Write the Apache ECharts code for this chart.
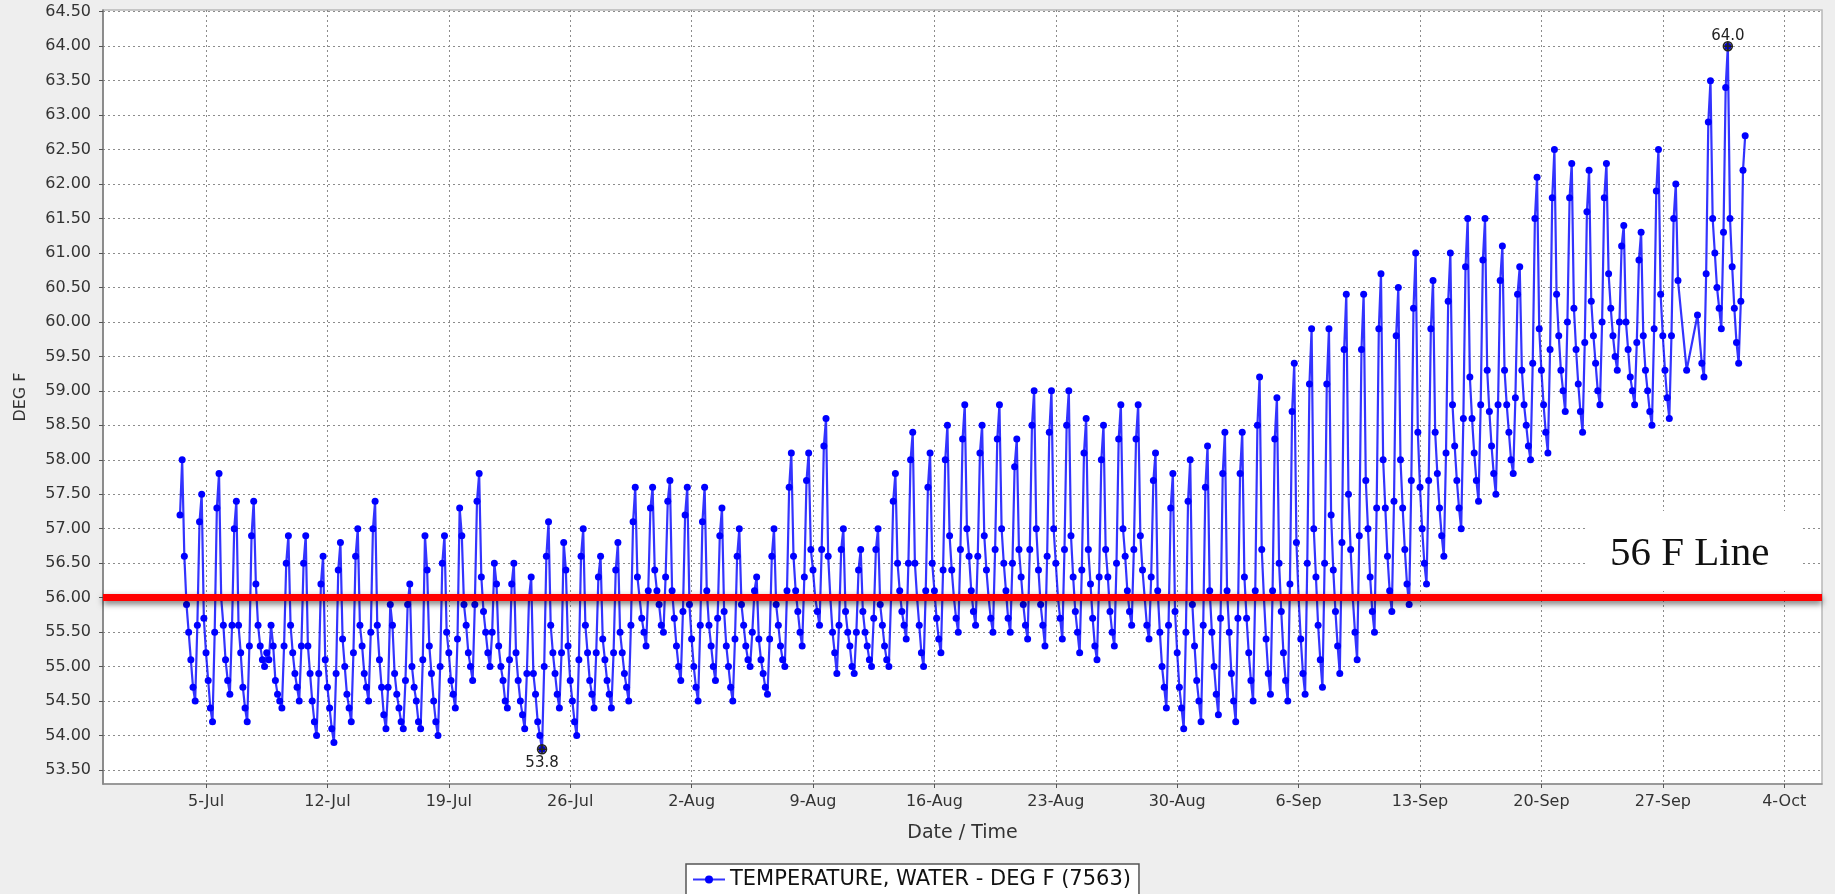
<!DOCTYPE html>
<html>
<head>
<meta charset="utf-8">
<script src="https://cdn.jsdelivr.net/npm/echarts@6/dist/echarts.min.js"></script>
<style>
html,body{margin:0;padding:0;background:#eeeeee;}
#chart{width:1835px;height:894px;}
</style>
</head>
<body>
<div id="chart"></div>
<script>
// ---------- tick labels ----------
const xTickDates = ['2014-07-05','2014-07-12','2014-07-19','2014-07-26','2014-08-02','2014-08-09','2014-08-16','2014-08-23','2014-08-30','2014-09-06','2014-09-13','2014-09-20','2014-09-27','2014-10-04'];
const xTickLabels = ['5-Jul','12-Jul','19-Jul','26-Jul','2-Aug','9-Aug','16-Aug','23-Aug','30-Aug','6-Sep','13-Sep','20-Sep','27-Sep','4-Oct'];
const yTicks = [53.5,54,54.5,55,55.5,56,56.5,57,57.5,58,58.5,59,59.5,60,60.5,61,61.5,62,62.5,63,63.5,64,64.5];
const xRange = ['2014-06-29T01:26','2014-10-06T04:19'];
const yRange = [53.297, 64.525];

// ---------- text ----------
const seriesName = 'TEMPERATURE, WATER - DEG F (7563)';
const xAxisName = 'Date / Time';
const yAxisName = 'DEG F';
const refLineValue = 56;
const refLineLabel = '56 F Line';

// ---------- data: water temperature (deg F), one reading every 3 hours ----------
const sampleStepHours = 3;
const julyStart = '2014-07-03T12:00';
const julyTemps = [
  57.2,58.0,56.6,55.9,
  55.5,55.1,54.7,54.5,55.6,57.1,57.5,55.7,
  55.2,54.8,54.4,54.2,55.5,57.3,57.8,56.0,
  55.6,55.1,54.8,54.6,55.6,57.0,57.4,55.6,
  55.2,54.7,54.4,54.2,55.3,56.9,57.4,56.2,
  55.6,55.3,55.1,55.0,55.2,55.1,55.6,55.3,
  54.8,54.6,54.5,54.4,55.3,56.5,56.9,55.6,
  55.2,54.9,54.7,54.5,55.3,56.5,56.9,55.3,
  54.9,54.5,54.2,54.0,54.9,56.2,56.6,55.1,
  54.7,54.4,54.1,53.9,54.9,56.4,56.8,55.4,
  55.0,54.6,54.4,54.2,55.2,56.6,57.0,55.6,
  55.3,54.9,54.7,54.5,55.5,57.0,57.4,55.6,
  55.1,54.7,54.3,54.1,54.7,55.9,55.6,54.9,
  54.6,54.4,54.2,54.1,54.8,55.9,56.2,55.0,
  54.7,54.5,54.2,54.1,55.1,56.9,56.4,55.3,
  54.9,54.5,54.2,54.0,55.0,56.5,56.9,55.5,
  55.2,54.8,54.6,54.4,55.4,57.3,56.9,55.9,
  55.6,55.2,55.0,54.8,55.9,57.4,57.8,56.3,
  55.8,55.5,55.2,55.0,55.5,56.5,56.2,55.3,
  55.0,54.8,54.5,54.4,55.1,56.2,56.5,55.2,
  54.8,54.5,54.3,54.1,54.9,56.0,56.3,54.9,
  54.6,54.2,54.0,53.8,55.0,56.6,57.1,55.6,
  55.2,54.9,54.6,54.4,55.2,56.8,56.4,55.3,
  54.8,54.5,54.2,54.0,55.1,56.6,57.0,55.6,
  55.2,54.8,54.6,54.4,55.2,56.3,56.6,55.4,
  55.1,54.8,54.6,54.4,55.2,56.4,56.8,55.5,
  55.2,54.9,54.7,54.5,55.6,57.1,57.6,56.3,
  56.0,55.7,55.5,55.3,56.1,57.3,57.6,56.4,
  56.1,55.9,55.6,55.5,56.3,57.4,57.7,56.1
];
const augustStart = '2014-08-01T00:00';
const augustTemps = [
  55.7,55.3,55.0,54.8,55.8,57.2,57.6,55.9,
  55.4,55.0,54.7,54.5,55.6,57.1,57.6,56.1,
  55.6,55.3,55.0,54.8,55.7,56.9,57.3,55.8,
  55.3,55.0,54.7,54.5,55.4,56.6,57.0,55.9,
  55.6,55.3,55.1,55.0,55.5,56.1,56.3,55.4,
  55.1,54.9,54.7,54.6,55.4,56.6,57.0,55.9,
  55.6,55.3,55.1,55.0,56.1,57.6,58.1,56.6,
  56.1,55.8,55.5,55.3,56.3,57.7,58.1,56.7,
  56.4,56.0,55.8,55.6,56.7,58.2,58.6,56.6,
  56.0,55.5,55.2,54.9,55.6,56.7,57.0,55.8,
  55.5,55.3,55.0,54.9,55.5,56.4,56.7,55.8,
  55.5,55.3,55.1,55.0,55.7,56.7,57.0,55.9,
  55.6,55.3,55.1,55.0,56.0,57.4,57.8,56.5,
  56.1,55.8,55.6,55.4,56.5,58.0,58.4,56.5,
  56.0,55.6,55.2,55.0,56.1,57.6,58.1,56.5,
  56.1,55.7,55.4,55.2,56.4,58.0,58.5,56.9,
  56.4,56.0,55.7,55.5,56.7,58.3,58.8,57.0,
  56.6,56.1,55.8,55.6,56.6,58.1,58.5,56.9,
  56.4,56.0,55.7,55.5,56.7,58.3,58.8,57.0,
  56.5,56.1,55.7,55.5,56.5,57.9,58.3,56.7,
  56.3,55.9,55.6,55.4,56.7,58.5,59.0,57.0,
  56.4,55.9,55.6,55.3,56.6,58.4,59.0,57.0,
  56.5,56.0,55.7,55.4,56.7,58.5,59.0,56.9,
  56.3,55.8,55.5,55.2,56.4,58.1,58.6,56.7,
  56.2,55.7,55.3,55.1,56.3,58.0,58.5,56.7,
  56.3,55.8,55.5,55.3,56.5,58.3,58.8,57.0,
  56.6,56.1,55.8,55.6,56.7,58.3,58.8,56.9,
  56.4,56.0,55.6,55.4,56.3,57.7,58.1,56.1,
  55.5,55.0,54.7,54.4,55.6,57.3,57.8,55.8,
  55.2,54.7,54.4,54.1,55.5,57.4,58.0,55.9,
  55.3,54.8,54.5,54.2,55.6,57.6,58.2,56.1
];
const septemberStart = '2014-09-01T00:00';
const septemberTemps = [
  55.5,55.0,54.6,54.3,55.7,57.8,58.4,56.1,
  55.5,54.9,54.5,54.2,55.7,57.8,58.4,56.3,
  55.7,55.2,54.8,54.5,56.1,58.5,59.2,56.7,
  56.0,55.4,54.9,54.6,56.1,58.3,58.9,56.5,
  55.8,55.2,54.8,54.5,56.2,58.7,59.4,56.8,
  56.0,55.4,54.9,54.6,56.5,59.1,59.9,57.0,
  56.3,55.6,55.1,54.7,56.5,59.1,59.9,57.2,
  56.4,55.8,55.3,54.9,56.8,59.6,60.4,57.5,
  56.7,56.0,55.5,55.1,56.9,59.6,60.4,57.7,
  57.0,56.3,55.8,55.5,57.3,59.9,60.7,58.0,
  57.3,56.6,56.1,55.8,57.4,59.8,60.5,58.0,
  57.3,56.7,56.2,55.9,57.7,60.2,61.0,58.4,
  57.6,57.0,56.5,56.2,57.7,59.9,60.6,58.4,
  57.8,57.3,56.9,56.6,58.1,60.3,61.0,58.8,
  58.2,57.7,57.3,57.0,58.6,60.8,61.5,59.2,
  58.6,58.1,57.7,57.4,58.8,60.9,61.5,59.3,
  58.7,58.2,57.8,57.5,58.8,60.6,61.1,59.3,
  58.8,58.4,58.0,57.8,58.9,60.4,60.8,59.3,
  58.8,58.5,58.2,58.0,59.4,61.5,62.1,59.9,
  59.3,58.8,58.4,58.1,59.6,61.8,62.5,60.4,
  59.8,59.3,59.0,58.7,60.0,61.8,62.3,60.2,
  59.6,59.1,58.7,58.4,59.7,61.6,62.2,60.3,
  59.8,59.4,59.0,58.8,60.0,61.8,62.3,60.7,
  60.2,59.8,59.5,59.3,60.0,61.1,61.4,60.0,
  59.6,59.2,59.0,58.8,59.7,60.9,61.3,59.8,
  59.3,59.0,58.7,58.5,59.9,61.9,62.5,60.4,
  59.8,59.3,58.9,58.6,59.8,61.5,62.0,60.6,
  null,null,null,59.3,null,null,null,null,
  60.1,null,59.4,59.2,60.7,62.9,63.5,61.5,
  61.0,60.5,60.2,59.9,61.3,63.4,64.0,61.5
];
const octoberStart = '2014-10-01T00:00';
const octoberTemps = [60.8,60.2,59.7,59.4,60.3,62.2,62.7];

// ---------- helpers ----------
function parseLocal(s) {
  const parts = s.split('T');
  const d = parts[0].split('-').map(Number);
  const t = (parts[1] || '00:00').split(':').map(Number);
  return new Date(d[0], d[1] - 1, d[2], t[0], t[1]).getTime();
}
function toPairs(start, values) {
  const t0 = parseLocal(start);
  return values.map((v, i) => [t0 + i * sampleStepHours * 3600000, v]);
}
const seriesData = [].concat(
  toPairs(julyStart, julyTemps),
  toPairs(augustStart, augustTemps),
  toPairs(septemberStart, septemberTemps),
  toPairs(octoberStart, octoberTemps)
);
const tickTimes = xTickDates.map(parseLocal);

const FONT = 'DejaVu Sans';
const chart = echarts.init(document.getElementById('chart'), null, {renderer: 'canvas'});
const option = {
  animation: false,
  backgroundColor: '#eeeeee',
  textStyle: {fontFamily: FONT},
  grid: {
    left: 103, right: 13, top: 10, bottom: 110,
    show: true, backgroundColor: '#ffffff', borderColor: '#b8b8b8', borderWidth: 1.5
  },
  xAxis: {
    type: 'value',
    min: parseLocal(xRange[0]),
    max: parseLocal(xRange[1]),
    name: xAxisName,
    nameLocation: 'middle',
    nameGap: 40,
    nameTextStyle: {fontSize: 19, color: '#333333', fontFamily: FONT},
    axisLine: {show: true, lineStyle: {color: '#8a8a8a', width: 1.5}},
    axisTick: {show: true, customValues: tickTimes, length: 4, lineStyle: {color: '#555555'}},
    axisLabel: {
      customValues: tickTimes,
      formatter: function (v) {
        for (let i = 0; i < tickTimes.length; i++) {
          if (Math.abs(tickTimes[i] - v) < 60000) return xTickLabels[i];
        }
        return '';
      },
      fontSize: 16, color: '#333333', margin: 10, fontFamily: FONT
    },
    splitLine: {show: true, lineStyle: {color: '#8c8c8c', type: [2, 3], width: 1}}
  },
  yAxis: {
    type: 'value',
    min: yRange[0],
    max: yRange[1],
    name: yAxisName,
    nameLocation: 'middle',
    nameGap: 74,
    nameRotate: 90,
    nameTextStyle: {fontSize: 16, color: '#333333', fontFamily: FONT},
    axisLine: {show: true, lineStyle: {color: '#777777', width: 1.5}},
    axisTick: {show: true, customValues: yTicks, length: 4, lineStyle: {color: '#555555'}},
    axisLabel: {
      customValues: yTicks,
      formatter: function (v) { return Number(v).toFixed(2); },
      fontSize: 16, color: '#333333', margin: 12, fontFamily: FONT
    },
    splitLine: {show: true, lineStyle: {color: '#8c8c8c', type: [2, 3], width: 1}}
  },
  legend: {
    show: true,
    left: 686,
    top: 864,
    padding: [5, 8, 5, 6],
    itemWidth: 32,
    itemHeight: 10,
    backgroundColor: '#ffffff',
    borderColor: '#555555',
    borderWidth: 1.5,
    borderRadius: 0,
    textStyle: {fontSize: 21, color: '#111111', fontFamily: FONT},
    data: [seriesName]
  },
  series: [{
    name: seriesName,
    type: 'line',
    data: seriesData,
    connectNulls: true,
    showSymbol: true,
    showAllSymbol: true,
    symbol: 'circle',
    symbolSize: 7,
    itemStyle: {color: '#0000ff'},
    lineStyle: {color: 'rgba(0,0,255,0.8)', width: 2.2},
    markPoint: {
      symbol: 'path://M5,0A5,5 0 1,1 5,10A5,5 0 1,1 5,0ZM5,0L5,10M0,5L10,5',
      symbolSize: 9,
      itemStyle: {color: 'rgba(0,0,0,0.15)', borderColor: '#222222', borderWidth: 1.5},
      label: {
        show: true, color: '#222222', fontSize: 15, fontFamily: FONT,
        formatter: function (p) { return Number(p.value).toFixed(1); }
      },
      data: [
        {type: 'max', label: {position: 'top', distance: 1, offset: [0, 4]}},
        {type: 'min', label: {position: 'bottom', distance: 1}}
      ]
    },
    markLine: {
      silent: true,
      symbol: ['none', 'none'],
      label: {show: false},
      lineStyle: {color: '#ff0000', width: 7, type: 'solid', shadowColor: 'rgba(0,0,0,0.55)', shadowBlur: 6, shadowOffsetY: 3},
      data: [{yAxis: refLineValue}]
    }
  }],
  graphic: [
    {type: 'rect', shape: {x: 1588, y: 511, width: 215, height: 80}, style: {fill: '#ffffff'}, z: 5},
    {type: 'text', x: 1610, y: 554, style: {text: refLineLabel, font: '41px "Liberation Serif"', fill: '#111111', verticalAlign: 'middle'}, z: 6}
  ]
};
chart.setOption(option);
</script>
</body>
</html>
